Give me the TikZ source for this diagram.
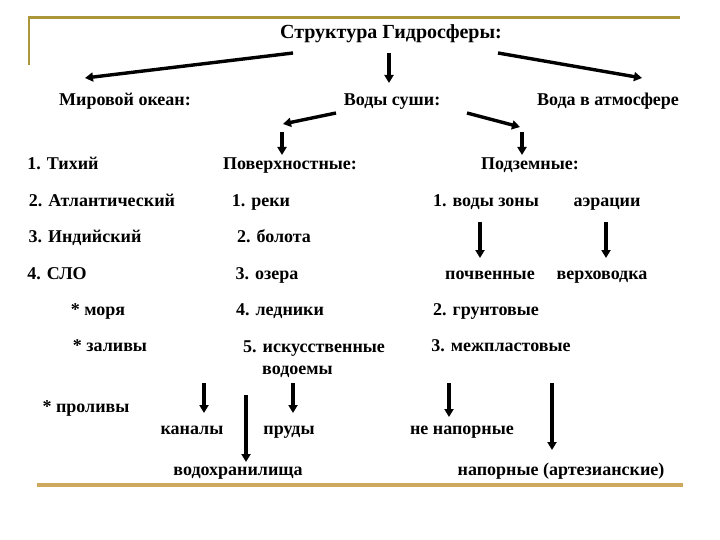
\documentclass[tikz,border=0pt]{standalone}
\usepackage{fontspec}
\setmainfont{Liberation Serif}
\usepackage{tikz}
\usetikzlibrary{arrows.meta,positioning,calc}
\definecolor{FrameOlive}{RGB}{172,150,58}
\definecolor{FrameGold}{RGB}{206,168,92}
\tikzset{
  lbl/.style={inner sep=0pt,anchor=base,font=\bfseries\fontsize{18}{21}\selectfont},
  arr/.style={line width=3.4pt,-{Triangle[length=8pt,width=9pt]}},
}

\begin{document}
\begin{tikzpicture}[x=1pt,y=-1pt]
  \useasboundingbox[fill=white] (0,0) rectangle (720,540);
  % frame
  \draw[FrameOlive,line width=2.8pt] (29,65) -- (29,17.5) -- (680,17.5);
  \draw[FrameGold,line width=3.4pt] (37,485) -- (683,485);

  \node[lbl,font=\bfseries\fontsize{20}{23}\selectfont] (title) at (391,39) {Структура Гидросферы:};
  \node[lbl] (mir) at (125,106) {Мировой океан:};
  \node[lbl] (sushi) at (392,106) {Воды суши:};
  \node[lbl] (atm) at (608,106) {Вода в атмосфере};

  \node[lbl] (pacific) at (63,170) {1. Тихий};
  \node[lbl] (atl) at (102,207) {2. Атлантический};
  \node[lbl] (ind) at (85,243) {3. Индийский};
  \node[lbl] (slo) at (57,279) {4. СЛО};
  \node[lbl] (morya) at (98,315) {* моря};
  \node[lbl] (zalivy) at (110,351) {* заливы};
  \node[lbl] (prolivy) at (86,412) {* проливы};

  \node[lbl] (poverh) at (290,170) {Поверхностные:};
  \node[lbl] (reki) at (261,207) {1. реки};
  \node[lbl] (bolota) at (274,243) {2. болота};
  \node[lbl] (ozera) at (267,279) {3. озера};
  \node[lbl] (ledn) at (280,315) {4. ледники};
  \node[lbl,anchor=south west,align=left] (iskus) at (243,378) {5. искусственные\\[1pt]\hspace*{19pt}водоемы};
  \node[lbl] (kanaly) at (192,434) {каналы};
  \node[lbl] (prudy) at (289,434) {пруды};
  \node[lbl] (vodohr) at (238,475) {водохранилища};

  \node[lbl] (podzem) at (530,170) {Подземные:};
  \node[lbl] (vzony) at (486,207) {1. воды зоны};
  \node[lbl] (aer) at (607,207) {аэрации};
  \node[lbl] (pochv) at (490,279) {почвенные};
  \node[lbl] (verh) at (602,279) {верховодка};
  \node[lbl] (grunt) at (486,315) {2. грунтовые};
  \node[lbl] (mezhpl) at (501,351) {3. межпластовые};
  \node[lbl] (nenap) at (462,434) {не напорные};
  \node[lbl] (napor) at (561,475) {напорные (артезианские)};

  \coordinate (lbend) at ($(poverh.base)+(-7,-46)$);
  \coordinate (rbend) at ($(podzem.base)+(-10,-43)$);

  \draw[arr] ($(title.base)+(-98,14)$) -- ($(mir.base)+(-40,-28)$);
  \draw[arr] ($(title.base)+(-2,14)$) -- ($(sushi.base)+(-3,-23)$);
  \draw[arr] ($(title.base)+(107,14)$) -- ($(atm.base)+(34,-28)$);
  \draw[arr] ($(sushi.base)+(-56,7)$) -- (lbend);
  \draw[arr] ($(lbend)+(-1,8)$) -- ($(poverh.base)+(-8,-15)$);
  \draw[arr] ($(sushi.base)+(75,7)$) -- (rbend);
  \draw[arr] ($(rbend)+(2,5)$) -- ($(podzem.base)+(-8,-15)$);
  \draw[arr] ($(vzony.base)+(-6,15)$) -- ($(pochv.base)+(-10,-21)$);
  \draw[arr] ($(aer.base)+(-1,15)$) -- ($(verh.base)+(4,-21)$);
  \draw[arr] ($(iskus.south west)+(-39,5)$) -- ($(kanaly.base)+(12,-21)$);
  \draw[arr] ($(iskus.south west)+(3,17)$) -- ($(vodohr.base)+(8,-13)$);
  \draw[arr] ($(iskus.south west)+(50,5)$) -- ($(prudy.base)+(4,-21)$);
  \draw[arr] ($(mezhpl.base)+(-52,32)$) -- ($(nenap.base)+(-13,-17)$);
  \draw[arr] ($(mezhpl.base)+(51,32)$) -- ($(napor.base)+(-9,-25)$);
\end{tikzpicture}
\end{document}
